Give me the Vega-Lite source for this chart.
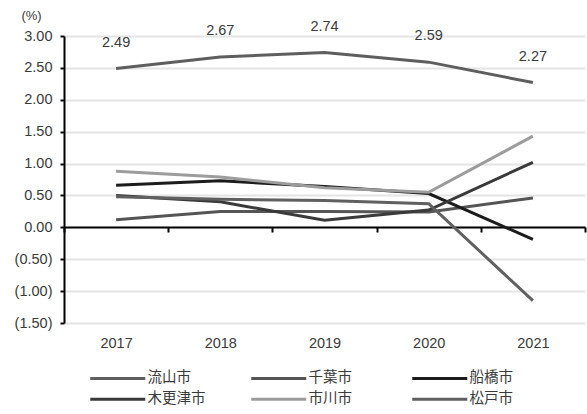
{
  "$schema": "https://vega.github.io/schema/vega-lite/v6.json",
  "width": 521,
  "height": 287,
  "autosize": "none",
  "padding": {"left": 64, "top": 36, "right": 2, "bottom": 91},
  "background": "white",
  "config": {
    "view": {"stroke": null},
    "font": "Liberation Sans",
    "axis": {"labelFont": "Liberation Sans", "labelFontSize": 14.5, "labelColor": "#3a3a3a"},
    "legend": {"labelFont": "Noto Sans CJK JP", "labelFontSize": 14.5, "labelColor": "#3a3a3a"}
  },
  "data": {
    "values": [
      {"city": "流山市", "year": "2017", "rate": 2.49},
      {"city": "流山市", "year": "2018", "rate": 2.67},
      {"city": "流山市", "year": "2019", "rate": 2.74},
      {"city": "流山市", "year": "2020", "rate": 2.59},
      {"city": "流山市", "year": "2021", "rate": 2.27},
      {"city": "千葉市", "year": "2017", "rate": 0.12},
      {"city": "千葉市", "year": "2018", "rate": 0.25},
      {"city": "千葉市", "year": "2019", "rate": 0.25},
      {"city": "千葉市", "year": "2020", "rate": 0.24},
      {"city": "千葉市", "year": "2021", "rate": 0.46},
      {"city": "船橋市", "year": "2017", "rate": 0.66},
      {"city": "船橋市", "year": "2018", "rate": 0.73},
      {"city": "船橋市", "year": "2019", "rate": 0.64},
      {"city": "船橋市", "year": "2020", "rate": 0.53},
      {"city": "船橋市", "year": "2021", "rate": -0.19},
      {"city": "木更津市", "year": "2017", "rate": 0.50},
      {"city": "木更津市", "year": "2018", "rate": 0.40},
      {"city": "木更津市", "year": "2019", "rate": 0.11},
      {"city": "木更津市", "year": "2020", "rate": 0.27},
      {"city": "木更津市", "year": "2021", "rate": 1.02},
      {"city": "市川市", "year": "2017", "rate": 0.88},
      {"city": "市川市", "year": "2018", "rate": 0.79},
      {"city": "市川市", "year": "2019", "rate": 0.62},
      {"city": "市川市", "year": "2020", "rate": 0.55},
      {"city": "市川市", "year": "2021", "rate": 1.43},
      {"city": "松戸市", "year": "2017", "rate": 0.48},
      {"city": "松戸市", "year": "2018", "rate": 0.44},
      {"city": "松戸市", "year": "2019", "rate": 0.42},
      {"city": "松戸市", "year": "2020", "rate": 0.37},
      {"city": "松戸市", "year": "2021", "rate": -1.15}
    ]
  },
  "encoding": {
    "x": {
      "field": "year",
      "type": "ordinal",
      "scale": {"type": "band", "paddingInner": 0, "paddingOuter": 0},
      "axis": {
        "title": null,
        "labelAngle": 0,
        "offset": -96,
        "domain": true,
        "domainColor": "#000000",
        "domainWidth": 2,
        "ticks": true,
        "tickBand": "extent",
        "tickColor": "#000000",
        "tickWidth": 2,
        "tickSize": 5,
        "labelPadding": 104,
        "grid": false
      }
    },
    "y": {
      "field": "rate",
      "type": "quantitative",
      "scale": {"domain": [-1.5, 3], "nice": false, "zero": false},
      "axis": {
        "title": "(%)",
        "titleAngle": 0,
        "titleAlign": "center",
        "titleBaseline": "middle",
        "titleX": -33,
        "titleY": -21,
        "titleFont": "Liberation Sans",
        "titleFontSize": 13,
        "titleFontWeight": "normal",
        "titleColor": "#3a3a3a",
        "values": [-1.5, -1, -0.5, 0, 0.5, 1, 1.5, 2, 2.5, 3],
        "labelExpr": "datum.value < 0 ? '(' + format(-datum.value, '.2f') + ')' : format(datum.value, '.2f') + '\u00a0\u00a0'",
        "labelPadding": 8,
        "domain": true,
        "domainColor": "#000000",
        "domainWidth": 2,
        "ticks": true,
        "tickColor": "#000000",
        "tickWidth": 2,
        "tickSize": 4,
        "grid": true,
        "gridColor": "#e4e4e4",
        "gridWidth": 2
      }
    }
  },
  "layer": [
    {
      "mark": {"type": "line", "strokeWidth": 3},
      "encoding": {
        "color": {
          "field": "city",
          "type": "nominal",
          "sort": ["流山市", "千葉市", "船橋市", "木更津市", "市川市", "松戸市"],
          "scale": {
            "domain": ["流山市", "千葉市", "船橋市", "木更津市", "市川市", "松戸市"],
            "range": ["#5e5e5e", "#555555", "#1c1c1c", "#3a3a3a", "#9c9c9c", "#606060"]
          },
          "legend": {
            "title": null,
            "orient": "none",
            "legendX": 24,
            "legendY": 335,
            "direction": "horizontal",
            "columns": 3,
            "gridAlign": "all",
            "columnPadding": 39,
            "rowPadding": 6,
            "symbolType": "M-1,0H10",
            "symbolSize": 100,
            "symbolStrokeWidth": 3,
            "labelOffset": 45
          }
        }
      }
    },
    {
      "transform": [{"filter": "datum.city === '流山市'"}],
      "mark": {"type": "text", "dy": -26, "font": "Liberation Sans", "fontSize": 14.5, "color": "#3a3a3a"},
      "encoding": {
        "text": {"field": "rate", "type": "quantitative", "format": ".2f"}
      }
    }
  ]
}
